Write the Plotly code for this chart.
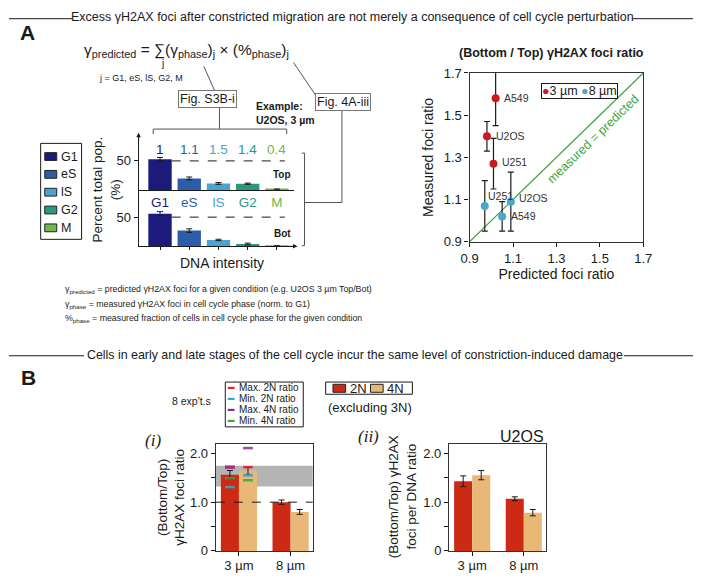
import plotly.graph_objects as go

W, H = 702, 581
FONT = "Liberation Sans, Arial, Helvetica, sans-serif"
SERIF = "Liberation Serif, Times New Roman, serif"
INK = "#1a1a1a"

# ---------------- data ----------------
phases = ["G1", "eS", "lS", "G2", "M"]
phase_colors = ["#1c1b7c", "#2b5da8", "#4ba4cf", "#2a977f", "#6cb84b"]
phase_foci = ["1", "1.1", "1.5", "1.4", "0.4"]
top_pct = [53, 20, 11.5, 11, 1]
top_err = [3, 2.5, 1.5, 1, 1]
bot_pct = [56, 27, 11, 4, 0.5]
bot_err = [3.5, 3, 1.2, 1.5, 0.5]
pct_ticks = [50]

cells_3um = ["A549", "U2OS", "U251"]
pred_3um = [1.02, 0.98, 1.01]
meas_3um = [1.58, 1.40, 1.27]
merr_3um = [0.13, 0.07, 0.12]
cells_8um = ["U251", "U2OS", "A549"]
pred_8um = [0.97, 1.09, 1.05]
meas_8um = [1.07, 1.09, 1.02]
merr_8um = [0.12, 0.14, 0.07]
ratio_ticks = [0.9, 1.1, 1.3, 1.5, 1.7]

pore_sizes = ["3 µm", "8 µm"]
ratio_2n = [1.565, 1.0]
ratio_2n_err = [0.085, 0.045]
ratio_4n = [1.645, 0.80]
ratio_4n_err = [0.075, 0.05]
# per-experiment extremes at 3 µm, for the (2N bar, 4N bar)
max_2n = [1.73, 1.72]
min_2n = [1.31, 1.55]
max_4n = [1.71, 2.11]
min_4n = [1.49, 1.45]
range_band = [1.32, 1.75]
u2os_2n = [1.43, 1.07]
u2os_2n_err = [0.11, 0.04]
u2os_4n = [1.555, 0.785]
u2os_4n_err = [0.095, 0.065]
b_ticks = [0, 0.5, 1.0, 1.5, 2.0]
b_ticklabels = ["0", "", "1.0", "", "2.0"]

# ---------------- styles ----------------
RED3 = "#cc1b1b"
BLUE8 = "#4aa8cc"
GREEN = "#3ba53b"
C2N = "#cc2a14"
C4N = "#e9b877"
MK_COLORS = ["#e8202a", "#2fa8d2", "#8a2a9a", "#3aaa3a"]
MK_NAMES = ["Max. 2N ratio", "Min. 2N ratio", "Max. 4N ratio", "Min. 4N ratio"]
BW = 0.35
label_shift_3um = [(6, 0), (7, 0), (7, 2)]
label_shift_8um = [(1, 10), (6, 4), (7, 0)]


def px(x):
    return x / W


def py(y):
    return 1 - y / H


annotations = []
shapes = []


def text(x, y, s, size=12, color=INK, xanchor="center", yanchor="middle",
         family=FONT, angle=0, **kw):
    annotations.append(dict(x=px(x), y=py(y), xref="paper", yref="paper", text=s,
                            showarrow=False, font=dict(size=size, color=color, family=family),
                            xanchor=xanchor, yanchor=yanchor, textangle=angle, **kw))


def line(x0, y0, x1, y1, color="#555", width=1, dash=None):
    shapes.append(dict(type="line", xref="paper", yref="paper", x0=px(x0), y0=py(y0),
                       x1=px(x1), y1=py(y1), line=dict(color=color, width=width, dash=dash)))


def rect(x0, y0, x1, y1, fill=None, color=INK, width=1):
    shapes.append(dict(type="rect", xref="paper", yref="paper", x0=px(x0), y0=py(y0),
                       x1=px(x1), y1=py(y1), fillcolor=fill or "rgba(0,0,0,0)",
                       line=dict(color=color, width=width)))


fig = go.Figure()

# ---------------- Panel A: phase bars ----------------
for ys, es, ax, ay in ((top_pct, top_err, "x", "y"), (bot_pct, bot_err, "x2", "y2")):
    fig.add_trace(go.Bar(x=phases, y=ys, width=0.8, marker=dict(color=phase_colors, line=dict(width=0)),
                         error_y=dict(type="data", array=es, color=INK, thickness=1, width=3),
                         xaxis=ax, yaxis=ay, showlegend=False))
for ay in ("y", "y2"):
    shapes.append(dict(type="line", xref="x", yref=ay, x0=0.4, x1=4.27, y0=50, y1=50,
                       line=dict(color=INK, width=1, dash="dash"), layer="below"))

# ---------------- Panel A: scatter ----------------
fig.add_trace(go.Scatter(x=[ratio_ticks[0], ratio_ticks[-1]], y=[ratio_ticks[0], ratio_ticks[-1]],
                         mode="lines", line=dict(color=GREEN, width=1.2), xaxis="x3", yaxis="y3",
                         showlegend=False, hoverinfo="skip"))
for xs, ys, es, col, names, shifts in ((pred_3um, meas_3um, merr_3um, RED3, cells_3um, label_shift_3um),
                                        (pred_8um, meas_8um, merr_8um, BLUE8, cells_8um, label_shift_8um)):
    fig.add_trace(go.Scatter(x=xs, y=ys, mode="markers", marker=dict(color=col, size=8),
                             error_y=dict(type="data", array=es, color=INK, thickness=1.2, width=3),
                             xaxis="x3", yaxis="y3", showlegend=False))
    for xv, yv, nm, (sx, sy) in zip(xs, ys, names, shifts):
        annotations.append(dict(x=xv, y=yv, xref="x3", yref="y3", text=nm, showarrow=False,
                                xanchor="left", yanchor="middle", xshift=sx, yshift=sy,
                                font=dict(size=10.5, color="#333", family=FONT)))
annotations.append(dict(x=1.468, y=1.389, xref="x3", yref="y3", text="measured = predicted",
                        showarrow=False, textangle=-44, font=dict(size=12.5, color=GREEN, family=FONT)))

# ---------------- Panel B bars ----------------
idx = list(range(len(pore_sizes)))
for ax, ay, d2, e2, d4, e4 in (("x4", "y4", ratio_2n, ratio_2n_err, ratio_4n, ratio_4n_err),
                               ("x5", "y5", u2os_2n, u2os_2n_err, u2os_4n, u2os_4n_err)):
    for vals, errs, col, off in ((d2, e2, C2N, -BW), (d4, e4, C4N, 0)):
        fig.add_trace(go.Bar(x=idx, y=vals, width=BW, offset=off, marker=dict(color=col, line=dict(width=0)),
                             error_y=dict(type="data", array=errs, color=INK, thickness=1, width=3),
                             xaxis=ax, yaxis=ay, showlegend=False))
mk_x = [idx[0] - BW / 2, idx[0] + BW / 2]
for vals, col in zip((max_2n, min_2n, max_4n, min_4n), MK_COLORS):
    fig.add_trace(go.Scatter(x=mk_x, y=vals, mode="markers",
                             marker=dict(symbol="line-ew", size=7, color=col, line=dict(color=col, width=2.5)),
                             opacity=0.85, xaxis="x4", yaxis="y4", showlegend=False))
shapes.append(dict(type="rect", xref="x4 domain", yref="y4", x0=0, x1=1, y0=range_band[0], y1=range_band[1],
                   fillcolor="#b4b4b4", line=dict(width=0), layer="below"))
shapes.append(dict(type="line", xref="x4 domain", yref="y4", x0=0, x1=1, y0=1, y1=1,
                   line=dict(color=INK, width=1, dash="dash"), layer="above"))

# ---------------- axes ----------------
base = dict(showgrid=False, zeroline=False, showline=True, linecolor=INK, linewidth=1,
            tickfont=dict(size=13, color=INK, family=FONT), tickcolor=INK)
box = dict(base, mirror=True, linecolor="#333", linewidth=1.3, ticks="outside", ticklen=4)

layout_axes = dict(
    xaxis=dict(base, domain=[px(133), px(293)], anchor="y", range=[-0.733, 4.6], ticks="",
               tickmode="array", tickvals=phases,
               ticktext=[f"<span style='color:{c}'>{p}</span>" for p, c in zip(phases, phase_colors)],
               tickfont=dict(size=13.5, family=FONT)),
    yaxis=dict(base, domain=[py(188), py(131)], anchor="x", range=[0, 95], tickvals=pct_ticks,
               ticks="outside", ticklen=4),
    xaxis2=dict(base, domain=[px(133), px(293)], anchor="y2", range=[-0.733, 4.6], tickmode="array",
                tickvals=phases, ticks="outside", ticklen=3, showticklabels=False),
    yaxis2=dict(base, domain=[py(245.7), py(188)], anchor="x2", range=[0, 96.2], tickvals=pct_ticks,
                ticks="outside", ticklen=4),
    xaxis3=dict(box, domain=[px(472.7), px(651)], anchor="y3", range=[ratio_ticks[0], ratio_ticks[-1]],
                tickvals=ratio_ticks, tickformat=".1f",
                title=dict(text="Predicted foci ratio", font=dict(size=14, family=FONT, color=INK), standoff=3)),
    yaxis3=dict(box, domain=[py(241), py(67.7)], anchor="x3", range=[ratio_ticks[0], ratio_ticks[-1]],
                tickvals=ratio_ticks, tickformat=".1f",
                title=dict(text="Measured foci ratio", font=dict(size=14, family=FONT, color=INK), standoff=6)),
    xaxis4=dict(box, domain=[px(212.3), px(311.7)], anchor="y4", range=[-0.447, 1.428],
                tickvals=idx, ticktext=pore_sizes, ticklabelstandoff=-2),
    yaxis4=dict(box, domain=[py(558.3), py(448.3)], anchor="x4", range=[0, 2.2],
                tickvals=b_ticks, ticktext=b_ticklabels),
    xaxis5=dict(box, domain=[px(451.7), px(551)], anchor="y5", range=[-0.447, 1.428],
                tickvals=idx, ticktext=pore_sizes, ticklabelstandoff=-2),
    yaxis5=dict(box, domain=[py(558.3), py(448.3)], anchor="x5", range=[0, 2.2],
                tickvals=b_ticks, ticktext=b_ticklabels),
)

# ---------------- Panel A annotations ----------------
text(353, 10, "Excess γH2AX foci after constricted migration are not merely a consequence of cell cycle perturbation",
     size=12.5)
line(0, 12, 65, 12, color=INK)
line(640, 12, 702, 12, color=INK)
text(19, 26, "<b>A</b>", size=21)
text(75, 45, "γ<sub>predicted</sub> = ∑(γ<sub>phase</sub>)<sub>j</sub> × (%<sub>phase</sub>)<sub>j</sub>",
     size=15.5, xanchor="left")
text(157.5, 58, "j", size=10)
text(90, 73, "j = G1, eS, lS, G2, M", size=9, xanchor="left")
text(203.5, 94.5, "Fig. S3B-i", size=12.5, bordercolor="#777", borderwidth=1, borderpad=1, bgcolor="white")
text(343, 98, "Fig. 4A-iii", size=12.5, bordercolor="#777", borderwidth=1, borderpad=1, bgcolor="white")
line(200, 61, 212, 88)
line(292, 57, 315, 91)
line(216, 101, 216, 125.3)
line(148, 125.3, 285, 125.3)
line(148, 125.3, 148, 130.5)
line(285, 125.3, 285, 130.5)
line(303.3, 150, 303.3, 245)
line(300.5, 150, 303.3, 150)
line(300.5, 245, 303.3, 245)
line(303.3, 200.7, 341.7, 200.7)
line(341.7, 200.7, 341.7, 105)
text(251, 102, "<b>Example:</b>", size=10.5, xanchor="left")
text(251, 116, "<b>U2OS, 3 µm</b>", size=10.5, xanchor="left")
for p, f, c in zip(phases, phase_foci, phase_colors):
    annotations.append(dict(x=p, y=py(137), xref="x", yref="paper", text=f, showarrow=False,
                            font=dict(size=13.5, color=c, family=FONT)))
text(280.5, 172, "<b>Top</b>", size=10)
text(280.5, 232, "<b>Bot</b>", size=10)
text(100, 187, "Percent total pop.<br>(%)", size=13.5, angle=-90)
text(219, 263, "DNA intensity", size=14)
# axis arrows
annotations.append(dict(x=px(133), y=py(129), xref="paper", yref="paper", text="", showarrow=True,
                        ax=0, ay=10, arrowhead=2, arrowsize=0.9, arrowwidth=1, arrowcolor=INK))
annotations.append(dict(x=px(296), y=py(245.7), xref="paper", yref="paper", text="", showarrow=True,
                        ax=-10, ay=0, arrowhead=2, arrowsize=0.9, arrowwidth=1, arrowcolor=INK))
# phase legend
rect(32.5, 140, 74.5, 238.5, color=INK)
for i, (p, c) in enumerate(zip(phases, phase_colors)):
    yc = 153.5 + i * 18.3
    rect(36.7, yc - 4, 49, yc + 4, fill=c, color="#222")
    text(51.5, yc, p, size=12.5, xanchor="left")
# footnotes
text(55, 290, "γ<sub>predicted</sub> = predicted γH2AX foci for a given condition (e.g. U2OS 3 µm Top/Bot)",
     size=8.8, xanchor="left")
text(55, 305, "γ<sub>phase</sub> = measured γH2AX foci in cell cycle phase (norm. to G1)", size=8.8, xanchor="left")
text(55, 320, "%<sub>phase</sub> = measured fraction of cells in cell cycle phase for the given condition",
     size=8.8, xanchor="left")
# scatter title + legend
text(557, 47, "<b>(Bottom / Top) γH2AX foci ratio</b>", size=12.5)
text(586, 86, f"<span style='color:{RED3}'>●</span>3 µm <span style='color:{BLUE8}'>●</span>8 µm",
     size=12.5, bordercolor=INK, borderwidth=1, borderpad=0)

# ---------------- Panel B annotations ----------------
text(355, 357.7, "Cells in early and late stages of the cell cycle incur the same level of constriction-induced damage",
     size=12.4)
line(0, 358, 77, 358, color=INK)
line(631, 358, 702, 358, color=INK)
text(19.5, 380, "<b>B</b>", size=21)
text(187, 404, "8 exp't.s", size=10.5)
rect(222, 385, 302, 431, color=INK)
for i, (nm, col) in enumerate(zip(MK_NAMES, MK_COLORS)):
    yc = 391 + i * 11.3
    line(224.5, yc, 231.5, yc, color=col, width=2.2)
    text(234, yc, nm, size=10, xanchor="left")
rect(325, 385, 414, 397.5, color=INK)
rect(332.5, 387.3, 345.5, 395.5, fill=C2N, color="#222")
text(347.5, 391.3, "2N", size=13, xanchor="left")
rect(371, 387.3, 384, 395.5, fill=C4N, color="#222")
text(386, 391.3, "4N", size=13, xanchor="left")
text(325, 411, "(excluding 3N)", size=13, xanchor="left")
text(148, 445, "<i>(i)</i>", size=17, family=SERIF)
text(368.5, 441, "<i>(ii)</i>", size=17, family=SERIF)
text(551, 441, "U2OS", size=16, xanchor="right")
text(166, 503, "(Bottom/Top)<br>γH2AX foci ratio", size=13.5, angle=-90)
text(403.5, 503, "(Bottom/Top) γH2AX<br>foci per DNA ratio", size=13.5, angle=-90)

fig.update_layout(
    width=W, height=H, autosize=False, margin=dict(l=0, r=0, t=0, b=0),
    paper_bgcolor="white", plot_bgcolor="white", barmode="overlay", showlegend=False,
    font=dict(family=FONT, color=INK, size=12),
    annotations=annotations, shapes=shapes, **layout_axes,
)

fig.write_html("out.html", config={"displayModeBar": False},
               post_script="document.body.style.margin='0';document.body.style.overflow='hidden';")
